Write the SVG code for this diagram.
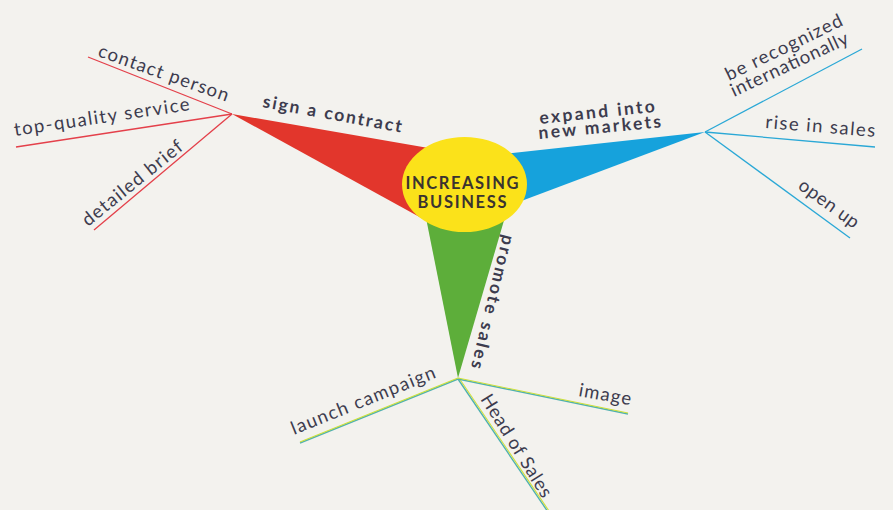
<svg xmlns="http://www.w3.org/2000/svg" width="893" height="510" viewBox="0 0 893 510">
<style>
.bg{fill:#f3f2ee}
.lbl{font-family:Lato,"Noto Sans","DejaVu Sans",sans-serif;font-size:18.5px;fill:#3d3c4e}
.bold{font-family:Lato,"Noto Sans","DejaVu Sans",sans-serif;font-size:17.5px;font-weight:bold;fill:#3d3c4e}
.ctr{font-family:Lato,"Noto Sans","DejaVu Sans",sans-serif;font-size:16.5px;font-weight:bold;fill:#3a3330;text-anchor:middle}
.red{stroke:#e4404a;stroke-width:1.3;fill:none}
.blue{stroke:#2aa8d6;stroke-width:1.3;fill:none}
.gr1{stroke:#4fb0b0;stroke-width:1.4;fill:none}
.gr2{stroke:#cfe03a;stroke-width:1.1;fill:none}
</style>
<rect class="bg" x="0" y="0" width="893" height="510"/>
<g id="connectors">
  <polygon points="232,114 440,150 425,220" fill="#e2362c"/>
  <polygon points="705,132 495,155 505,207" fill="#16a2dc"/>
  <polygon points="458,378 425.4,215 505.6,215" fill="#5dae3a"/>
  <line class="red" x1="232" y1="114" x2="88" y2="57"/>
  <line class="red" x1="232" y1="114" x2="16" y2="147"/>
  <line class="red" x1="232" y1="114" x2="94" y2="230"/>
  <line class="blue" x1="705" y1="132" x2="862" y2="49"/>
  <line class="blue" x1="705" y1="132" x2="875" y2="147"/>
  <line class="blue" x1="705" y1="132" x2="850" y2="238"/>
  <line class="gr1" x1="458" y1="379" x2="300" y2="443"/>
  <line class="gr2" x1="458" y1="378" x2="300" y2="442"/>
  <line class="gr1" x1="458" y1="379" x2="548" y2="512"/>
  <line class="gr2" x1="459" y1="378" x2="549" y2="511"/>
  <line class="gr1" x1="458" y1="379" x2="628" y2="414"/>
  <line class="gr2" x1="458" y1="378" x2="628" y2="413"/>
</g>
<g id="center">
  <ellipse cx="464.5" cy="184.5" rx="62.5" ry="47.5" fill="#fbe21a"/>
  <text class="ctr" x="462" y="189" textLength="113" lengthAdjust="spacing">INCREASING</text>
  <text class="ctr" x="462" y="208" textLength="89" lengthAdjust="spacing">BUSINESS</text>
</g>
<g id="sign-a-contract"><text class="bold" transform="translate(262,107) rotate(10.4)" textLength="141" lengthAdjust="spacing">sign a contract</text></g>
<g id="expand-into-new-markets">
  <text class="bold" transform="translate(540,124) rotate(-6)" textLength="116" lengthAdjust="spacing">expand into</text>
  <text class="bold" transform="translate(539,139) rotate(-5.5)" textLength="123" lengthAdjust="spacing">new markets</text>
</g>
<g id="promote-sales"><text class="bold" transform="translate(503,234) rotate(103.5)" textLength="137" lengthAdjust="spacing">promote sales</text></g>
<g id="contact-person"><text class="lbl" transform="translate(97,56) rotate(19.5)" textLength="137" lengthAdjust="spacing">contact person</text></g>
<g id="top-quality-service"><text class="lbl" transform="translate(15,136) rotate(-8.4)" textLength="177" lengthAdjust="spacing">top-quality service</text></g>
<g id="detailed-brief"><text class="lbl" transform="translate(88,227) rotate(-39)" textLength="124" lengthAdjust="spacing">detailed brief</text></g>
<g id="be-recognized-internationally">
  <text class="lbl" transform="translate(729,81) rotate(-26)" textLength="128" lengthAdjust="spacing">be recognized</text>
  <text class="lbl" transform="translate(734,97) rotate(-25)" textLength="128" lengthAdjust="spacing">internationally</text>
</g>
<g id="rise-in-sales"><text class="lbl" transform="translate(765,128) rotate(4.7)" textLength="110" lengthAdjust="spacing">rise in sales</text></g>
<g id="open-up"><text class="lbl" transform="translate(797,188) rotate(36)" textLength="70" lengthAdjust="spacing">open up</text></g>
<g id="launch-campaign"><text class="lbl" transform="translate(294,435) rotate(-22)" textLength="154" lengthAdjust="spacing">launch campaign</text></g>
<g id="head-of-sales"><text class="lbl" transform="translate(480,399) rotate(58)" textLength="118" lengthAdjust="spacing">Head of Sales</text></g>
<g id="image"><text class="lbl" transform="translate(578,396) rotate(10)" textLength="53" lengthAdjust="spacing">image</text></g>
</svg>
